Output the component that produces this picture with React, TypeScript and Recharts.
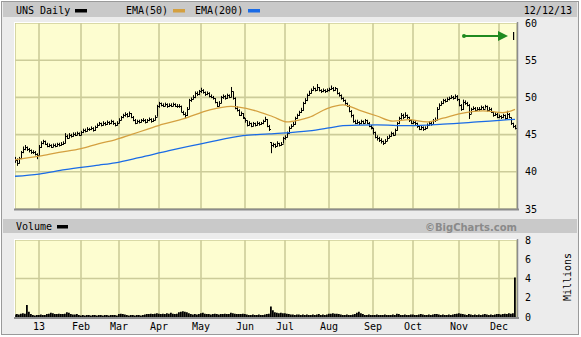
import React from 'react';
import { ComposedChart, Bar, Line, XAxis, YAxis, CartesianGrid, ReferenceLine } from 'recharts';

// Daily closes, highs and lows (Dec 13 2012 .. Dec 12 2013), one per trading day
const closes = [
  41.6, 41.2, 41.8, 42.6, 43.1, 43.3, 43.0, 42.9, 42.6, 42.7, 42.4, 42.2,
  43.3, 43.9, 44.1, 43.8, 43.5, 43.6, 43.4, 43.6, 43.5, 43.7, 43.6, 43.8, 43.9, 44.8, 44.6, 45.0, 44.8, 45.1, 45.0, 45.2, 45.0,
  45.3, 45.6, 45.5, 45.8, 45.7, 45.9, 45.6, 46.0, 46.3, 46.5, 46.3, 46.6, 46.4, 46.7, 46.5, 46.8, 46.5, 46.3, 46.6,
  47.0, 47.3, 47.6, 47.8, 47.5, 47.9, 47.4, 47.0, 46.6, 46.8, 46.7, 46.9, 47.0, 46.7, 46.9, 47.1, 46.8, 47.0, 47.4, 48.8,
  49.2, 49.0, 48.9, 49.1, 48.8, 49.0, 48.9, 49.1, 48.9, 48.8, 48.9, 48.1, 47.8, 47.6, 48.5, 49.6, 49.8, 50.0, 50.6, 50.4, 50.8,
  51.0, 50.7, 50.4, 50.6, 50.2, 50.1, 49.9, 49.4, 48.9, 49.3, 50.0, 50.2, 49.9, 50.3, 50.1, 50.8, 49.9, 48.6, 48.3, 47.7, 47.9, 47.3,
  46.9, 46.3, 46.6, 46.2, 46.5, 46.3, 46.6, 46.4, 46.5, 46.8, 47.1, 46.2, 45.8, 43.6, 43.7, 43.5, 43.9, 43.6, 43.8, 44.5,
  44.7, 45.2, 45.9, 46.2, 46.4, 47.2, 47.6, 48.0, 48.3, 49.2, 49.6, 50.3, 50.6, 51.0, 51.2, 51.0, 51.4, 51.0, 50.8, 51.0, 50.8, 51.0,
  51.1, 51.3, 51.0, 51.2, 50.6, 50.3, 49.9, 49.6, 49.2, 48.9, 48.2, 47.6, 46.8, 46.6, 46.7, 46.5, 46.8, 46.6, 46.9, 46.6, 46.2, 46.0,
  45.3, 44.7, 44.5, 44.3, 44.1, 43.9, 44.2, 44.6, 44.8, 45.2, 45.0, 45.6, 46.5, 47.2, 47.6, 47.4, 47.7, 47.3, 46.9, 46.6,
  46.7, 46.5, 46.1, 45.8, 46.0, 45.7, 45.9, 46.3, 46.6, 46.4, 46.9, 47.0, 48.5, 49.0, 49.2, 49.6, 49.5, 49.8, 49.9, 50.1, 49.9, 50.2, 49.8,
  49.0, 48.4, 49.4, 49.2, 49.0, 47.8, 48.4, 48.6, 48.3, 48.5, 48.4, 48.7, 48.5, 48.8, 48.3, 48.5, 48.1, 47.6, 47.8, 47.4,
  47.5, 47.3, 47.6, 47.2, 47.8, 47.4, 46.5, 46.1, 45.9,
];

const highs = [
  42.0, 41.8, 42.0, 42.8, 43.4, 43.6, 43.4, 43.2, 43.0, 42.9, 42.8, 42.5,
  43.6, 44.1, 44.3, 44.2, 43.9, 43.8, 43.7, 43.8, 43.8, 43.9, 43.9, 44.0, 44.1, 45.2, 45.0, 45.2, 45.1, 45.3, 45.3, 45.4, 45.3,
  45.5, 45.8, 45.8, 46.0, 45.9, 46.1, 46.0, 46.2, 46.5, 46.7, 46.6, 46.8, 46.7, 46.9, 46.8, 47.0, 46.9, 46.6, 46.8,
  47.2, 47.5, 47.8, 48.0, 47.9, 48.1, 47.9, 47.5, 47.1, 47.0, 47.0, 47.1, 47.2, 47.1, 47.1, 47.3, 47.2, 47.2, 47.6, 49.0,
  49.4, 49.3, 49.2, 49.3, 49.2, 49.2, 49.2, 49.3, 49.2, 49.1, 49.1, 48.9, 48.2, 48.0, 48.7, 49.8, 50.0, 50.3, 50.8, 50.8, 51.0,
  51.3, 51.1, 50.8, 50.8, 50.7, 50.4, 50.2, 49.9, 49.4, 49.5, 50.2, 50.4, 50.3, 50.5, 50.4, 51.4, 50.8, 50.0, 48.8, 48.4, 48.1, 47.9,
  47.2, 46.9, 46.8, 46.6, 46.7, 46.6, 46.8, 46.7, 46.7, 47.0, 47.4, 47.1, 46.3, 44.0, 43.9, 43.8, 44.1, 43.9, 44.0, 44.7,
  44.9, 45.4, 46.1, 46.4, 46.7, 47.4, 47.8, 48.2, 48.6, 49.4, 49.9, 50.5, 50.9, 51.2, 51.5, 51.3, 51.8, 51.4, 51.1, 51.2, 51.1, 51.2,
  51.3, 51.6, 51.4, 51.4, 51.2, 50.7, 50.4, 50.0, 49.7, 49.3, 49.0, 48.3, 47.7, 47.0, 47.0, 46.8, 47.0, 46.9, 47.1, 47.0, 46.7, 46.3,
  45.9, 45.4, 44.9, 44.7, 44.5, 44.2, 44.4, 44.8, 45.0, 45.4, 45.3, 45.8, 46.7, 47.4, 47.9, 47.8, 48.0, 47.7, 47.4, 47.0,
  46.9, 46.8, 46.6, 46.2, 46.2, 46.1, 46.1, 46.5, 46.8, 46.7, 47.1, 47.3, 48.7, 49.2, 49.5, 49.8, 49.8, 50.0, 50.1, 50.3, 50.2, 50.4, 50.3,
  49.8, 49.1, 49.7, 49.6, 49.4, 49.1, 48.6, 48.8, 48.7, 48.7, 48.7, 48.9, 48.8, 49.0, 48.9, 48.7, 48.6, 48.1, 48.0, 47.9,
  47.7, 47.6, 47.8, 47.7, 48.2, 47.9, 47.3, 46.6, 46.3,
];

const lows = [
  41.2, 40.8, 41.1, 41.7, 42.5, 42.9, 42.8, 42.6, 42.4, 42.4, 42.2, 41.7,
  42.1, 43.2, 43.7, 43.6, 43.3, 43.3, 43.2, 43.3, 43.3, 43.4, 43.4, 43.5, 43.6, 43.8, 44.4, 44.5, 44.6, 44.7, 44.8, 44.9, 44.8,
  44.9, 45.2, 45.3, 45.4, 45.5, 45.6, 45.4, 45.5, 45.9, 46.2, 46.1, 46.2, 46.2, 46.3, 46.3, 46.4, 46.3, 46.1, 46.2,
  46.5, 46.9, 47.2, 47.4, 47.3, 47.4, 47.2, 46.8, 46.4, 46.5, 46.5, 46.6, 46.7, 46.5, 46.6, 46.8, 46.6, 46.7, 46.9, 47.4,
  48.6, 48.8, 48.7, 48.8, 48.6, 48.7, 48.7, 48.8, 48.7, 48.6, 48.6, 48.0, 47.6, 47.2, 47.5, 48.4, 49.4, 49.7, 49.9, 50.2, 50.3,
  50.6, 50.5, 50.2, 50.3, 50.0, 49.9, 49.7, 49.2, 48.7, 48.8, 49.2, 49.8, 49.7, 49.8, 49.9, 50.0, 49.7, 48.4, 48.1, 47.5, 47.5, 47.1,
  46.6, 46.1, 46.2, 46.0, 46.1, 46.1, 46.2, 46.2, 46.3, 46.4, 46.7, 46.0, 45.5, 42.5, 43.3, 43.2, 43.4, 43.4, 43.5, 43.8,
  44.3, 44.6, 45.1, 45.8, 46.1, 46.3, 47.1, 47.5, 47.9, 48.2, 49.1, 49.5, 50.2, 50.5, 50.9, 50.8, 50.9, 50.8, 50.6, 50.7, 50.6, 50.7,
  50.8, 51.0, 50.8, 50.9, 50.4, 50.1, 49.7, 49.4, 49.0, 48.7, 48.0, 47.3, 46.6, 46.4, 46.4, 46.3, 46.4, 46.4, 46.5, 46.4, 46.0, 45.7,
  45.0, 44.5, 44.2, 44.0, 43.8, 43.6, 43.8, 44.1, 44.5, 44.7, 44.8, 44.9, 45.5, 46.4, 47.0, 47.1, 47.3, 47.1, 46.7, 46.4,
  46.4, 46.3, 45.9, 45.6, 45.6, 45.5, 45.6, 45.8, 46.2, 46.2, 46.4, 46.7, 47.0, 48.4, 48.9, 49.1, 49.3, 49.4, 49.6, 49.8, 49.7, 49.8, 49.5,
  48.8, 48.2, 48.3, 49.0, 48.8, 47.1, 47.8, 48.3, 48.1, 48.2, 48.2, 48.3, 48.3, 48.5, 48.1, 48.2, 47.9, 47.4, 47.5, 47.2,
  47.2, 47.1, 47.2, 47.0, 47.1, 47.2, 46.3, 45.9, 45.7,
];

// Daily volume, millions
const volumes = [
  0.25, 0.3, 0.25, 0.35, 0.4, 0.35, 1.25, 0.55, 0.3, 0.2, 0.15, 0.2,
  0.2, 0.25, 0.2, 0.2, 0.3, 0.35, 0.45, 0.4, 0.3, 0.3, 0.35, 0.3, 0.3, 0.35, 0.5, 0.45, 0.3, 0.25, 0.25, 0.3, 0.2,
  0.15, 0.2, 0.15, 0.2, 0.2, 0.15, 0.2, 0.2, 0.15, 0.2, 0.2, 0.15, 0.2, 0.2, 0.15, 0.2, 0.2, 0.2, 0.15,
  0.3, 0.35, 0.3, 0.25, 0.2, 0.15, 0.2, 0.2, 0.15, 0.2, 0.2, 0.15, 0.2, 0.25, 0.3, 0.3, 0.35, 0.3, 0.35, 0.4,
  0.35, 0.3, 0.35, 0.3, 0.4, 0.35, 0.45, 0.35, 0.3, 0.35, 0.5, 0.55, 0.6, 0.55, 0.5, 0.4, 0.3, 0.25, 0.3, 0.25, 0.3,
  0.4, 0.45, 0.35, 0.3, 0.3, 0.25, 0.3, 0.35, 0.3, 0.25, 0.3, 0.3, 0.35, 0.3, 0.3, 0.45, 0.4, 0.35, 0.3, 0.3, 0.3, 0.35,
  0.3, 0.25, 0.2, 0.2, 0.25, 0.2, 0.2, 0.25, 0.2, 0.2, 0.25, 0.3, 0.35, 1.1, 0.7, 0.5, 0.45, 0.4, 0.45, 0.4,
  0.4, 0.35, 0.3, 0.25, 0.25, 0.2, 0.25, 0.25, 0.2, 0.25, 0.2, 0.25, 0.2, 0.2, 0.25, 0.2, 0.25, 0.3, 0.2, 0.25, 0.2, 0.25,
  0.35, 0.35, 0.4, 0.35, 0.35, 0.3, 0.25, 0.2, 0.2, 0.25, 0.2, 0.2, 0.25, 0.3, 0.45, 0.55, 0.4, 0.3, 0.2, 0.2, 0.25, 0.2,
  0.2, 0.2, 0.25, 0.2, 0.2, 0.2, 0.25, 0.2, 0.2, 0.2, 0.25, 0.2, 0.35, 0.3, 0.2, 0.2, 0.25, 0.2, 0.2, 0.25,
  0.25, 0.2, 0.2, 0.25, 0.3, 0.25, 0.2, 0.2, 0.25, 0.2, 0.25, 0.3, 0.3, 0.25, 0.2, 0.25, 0.2, 0.2, 0.25, 0.2, 0.25, 0.3, 0.35,
  0.4, 0.35, 0.3, 0.25, 0.2, 0.3, 0.25, 0.2, 0.25, 0.2, 0.25, 0.2, 0.25, 0.3, 0.25, 0.2, 0.25, 0.2, 0.25, 0.3,
  0.3, 0.25, 0.3, 0.35, 0.3, 0.4, 0.35, 0.4, 4.1,
];

// Moving averages at sample days
const ema50Days = [0, 12, 22, 33, 42, 50, 58, 66, 74, 84, 97, 108, 119, 129, 136, 142, 147, 156, 164, 172, 181, 189, 197, 206, 214, 222, 234, 244, 250];
const ema50Values = [41.6, 42.1, 42.6, 43.1, 43.8, 44.3, 45.0, 45.7, 46.4, 47.1, 48.3, 48.8, 48.3, 47.4, 46.7, 46.95, 47.3, 48.5, 49.0, 48.3, 47.5, 46.8, 47.0, 46.7, 47.2, 47.8, 48.2, 47.95, 48.4];
const ema200Days = [0, 12, 25, 42, 50, 62, 77, 97, 114, 127, 147, 157, 164, 181, 197, 214, 231, 247, 250];
const ema200Values = [39.4, 39.7, 40.3, 40.9, 41.2, 41.9, 42.85, 44.0, 44.85, 45.1, 45.5, 45.9, 46.2, 46.3, 46.2, 46.4, 46.7, 47.0, 47.05];

const monthStartDays = [12, 33, 52, 72, 93, 115, 135, 157, 179, 199, 222, 242];
const monthLabels = ['13', 'Feb', 'Mar', 'Apr', 'May', 'Jun', 'Jul', 'Aug', 'Sep', 'Oct', 'Nov', 'Dec'];
const priceTicks = [35, 40, 45, 50, 55, 60];
const volumeTicks = [0, 2, 4, 6, 8];
const arrowLevel = 58.25;
const arrowFromDay = 224.5;
const arrowToDay = 246.5;

const priceData: any[] = closes.map((c, i) => ({
  d: i,
  close: c,
  open: i > 0 ? closes[i - 1] : c,
  range: [lows[i], highs[i]],
  ema50: null,
  ema200: null,
}));
ema50Days.forEach((d, k) => { priceData[d].ema50 = ema50Values[k]; });
ema200Days.forEach((d, k) => { priceData[d].ema200 = ema200Values[k]; });
const volumeData = volumes.map((v, i) => ({ d: i, vol: v }));

const MONO = '"DejaVu Sans Mono", monospace';
const GRID = '#cccc99';
const YELLOW = '#fdfdd0';
const tickStyle = { fill: '#000', fontSize: 10, fontFamily: MONO };

const OhlcShape = (props: any) => {
  const { x, y, width, height, payload } = props;
  if (x == null || y == null || !payload) return null;
  const top = Math.min(y, y + height);
  const h = Math.abs(height);
  const cx = Math.round(x + width / 2) + 0.5;
  const lo = payload.range[0];
  const hi = payload.range[1];
  const toY = (v: number) => {
    const c = Math.max(lo, Math.min(hi, v));
    return Math.round(hi === lo ? top : top + ((hi - c) / (hi - lo)) * h) + 0.5;
  };
  const cy = toY(payload.close);
  const oy = toY(payload.open);
  return (
    <g>
      <line x1={cx} x2={cx} y1={top} y2={top + Math.max(h, 1)} stroke="#000" strokeWidth={1} />
      <line x1={cx - 1.5} x2={cx} y1={oy} y2={oy} stroke="#000" strokeWidth={1} />
      <line x1={cx} x2={cx + 1.5} y1={cy} y2={cy} stroke="#000" strokeWidth={1} />
    </g>
  );
};

const ArrowShape = (props: any) => {
  const { x1, y1, x2, y2 } = props;
  if (x1 == null) return null;
  return (
    <g>
      <circle cx={x1} cy={y1} r={2} fill="#1f8a1f" />
      <line x1={x1} y1={y1} x2={x2 - 8} y2={y2} stroke="#1f8a1f" strokeWidth={2} />
      <polygon points={`${x2},${y2} ${x2 - 10},${y2 - 5} ${x2 - 10},${y2 + 5}`} fill="#1f8a1f" />
    </g>
  );
};

export default function App() {
  return (
    <div style={{ position: 'absolute', left: 0, top: 0, width: 581, height: 337, background: '#fff', overflow: 'hidden' }}>
      <svg width={581} height={337} style={{ position: 'absolute', left: 0, top: 0 }}>
        <rect x={1.5} y={1.5} width={577} height={333} fill="#ececec" stroke="#9a9a9a" />
        <rect x={3} y={2} width={574} height={15} fill="#c9c9c9" />
        <text x={16} y={14} fontFamily={MONO} fontSize={10} fill="#000">UNS Daily</text>
        <rect x={75} y={9} width={12} height={3.5} fill="#000" />
        <text x={126} y={14} fontFamily={MONO} fontSize={10} fill="#000">EMA(50)</text>
        <rect x={173} y={9} width={12} height={3.5} fill="#d4a040" />
        <text x={195} y={14} fontFamily={MONO} fontSize={10} fill="#000">EMA(200)</text>
        <rect x={248} y={9} width={12} height={3.5} fill="#1a6be6" />
        <text x={572} y={14} fontFamily={MONO} fontSize={10} fill="#000" textAnchor="end">12/12/13</text>
        <rect x={3} y={219} width={574} height={14} fill="#c9c9c9" />
        <text x={16} y={230} fontFamily={MONO} fontSize={10} fill="#000">Volume</text>
        <rect x={57} y={225} width={11} height={3.5} fill="#000" />
        <text x={517} y={230.5} fontFamily='"DejaVu Sans", sans-serif' fontWeight="bold" fontSize={10} fill="#8a8a8a" textAnchor="end" textLength={92} lengthAdjust="spacingAndGlyphs">©BigCharts.com</text>
        <rect x={15} y={23} width={502} height={186} fill={YELLOW} />
        <rect x={15} y={240} width={502} height={77} fill={YELLOW} />
        <g transform="translate(571,277) rotate(-90)">
          <text x={0} y={0} fontFamily={MONO} fontSize={10} fill="#000" textAnchor="middle">Millions</text>
        </g>
      </svg>

      <div style={{ position: 'absolute', left: 0, top: 0 }}>
        <ComposedChart width={581} height={215} data={priceData} margin={{ top: 23, right: 0, left: 15, bottom: 6 }}>
          <CartesianGrid stroke={GRID} strokeWidth={1.6} />
          <XAxis type="number" dataKey="d" domain={[0, 251]} ticks={monthStartDays} hide allowDataOverflow />
          <YAxis orientation="right" width={64} domain={[35, 60]} ticks={priceTicks} tickLine={false} axisLine={false} tick={tickStyle} tickSize={6} tickMargin={2} allowDataOverflow />
          <Line dataKey="ema200" stroke="#1a6be6" strokeWidth={1.3} dot={false} connectNulls type="monotone" isAnimationActive={false} />
          <Line dataKey="ema50" stroke="#d4a040" strokeWidth={1.3} dot={false} connectNulls type="monotone" isAnimationActive={false} />
          <Bar dataKey="range" barSize={2} shape={OhlcShape} isAnimationActive={false} />
          <ReferenceLine segment={[{ x: arrowFromDay, y: arrowLevel }, { x: arrowToDay, y: arrowLevel }]} shape={ArrowShape} />
          <ReferenceLine segment={[{ x: 249.3, y: 58.8 }, { x: 249.3, y: 57.7 }]} stroke="#000" strokeWidth={1.2} />
        </ComposedChart>
      </div>

      <div style={{ position: 'absolute', left: 0, top: 233 }}>
        <ComposedChart width={581} height={104} data={volumeData} margin={{ top: 7, right: 0, left: 15, bottom: 0 }}>
          <CartesianGrid stroke={GRID} strokeWidth={1.6} />
          <XAxis type="number" dataKey="d" domain={[0, 251]} ticks={monthStartDays} tickFormatter={(v: number) => monthLabels[monthStartDays.indexOf(v)]} tickLine={false} axisLine={false} tick={tickStyle} height={20} tickSize={6} tickMargin={0} interval={0} allowDataOverflow />
          <YAxis orientation="right" width={64} domain={[0, 8]} ticks={volumeTicks} tickLine={false} axisLine={false} tick={tickStyle} tickSize={6} tickMargin={2} allowDataOverflow />
          <Bar dataKey="vol" barSize={2} fill="#000" isAnimationActive={false} />
        </ComposedChart>
      </div>

      <svg width={581} height={337} style={{ position: 'absolute', left: 0, top: 0, pointerEvents: 'none' }}>
        <line x1={14} x2={518} y1={22.5} y2={22.5} stroke="#fff" />
        <line x1={14.5} x2={14.5} y1={22} y2={210} stroke="#fff" />
        <line x1={14} x2={519} y1={209.5} y2={209.5} stroke="#8c8c8c" strokeWidth={2} />
        <line x1={517.5} x2={517.5} y1={22} y2={210} stroke="#8c8c8c" strokeWidth={1.5} />
        <line x1={14} x2={518} y1={239.5} y2={239.5} stroke="#fff" />
        <line x1={14.5} x2={14.5} y1={239} y2={318} stroke="#fff" />
        <line x1={14} x2={519} y1={318} y2={318} stroke="#8c8c8c" strokeWidth={2} />
        <line x1={517.5} x2={517.5} y1={239} y2={318} stroke="#8c8c8c" strokeWidth={1.5} />
      </svg>
    </div>
  );
}
